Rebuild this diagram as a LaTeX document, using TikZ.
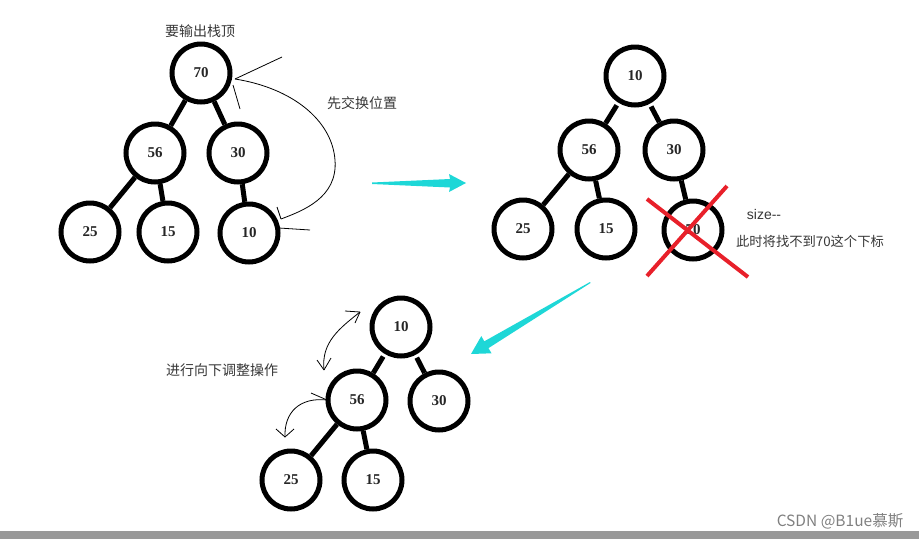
\documentclass[tikz,border=0pt]{standalone}
\usepackage{fontspec}
\usepackage{tikz}
\usepackage{xcolor}
\usetikzlibrary{positioning,calc}
\newfontfamily\cjk{Noto Sans CJK SC}
\newfontfamily\numfont{Liberation Serif}
\definecolor{arrowcyan}{RGB}{30,215,215}
\definecolor{crossred}{RGB}{232,32,42}
\definecolor{labelgray}{RGB}{55,55,55}

\begin{document}
\begin{tikzpicture}[x=1pt, y=-1pt,
        heapnode/.style={circle, draw, line width=5pt, minimum size=58pt, inner sep=0pt,
                         font=\numfont\fontsize{15}{15}\selectfont\bfseries, text=black!85},
        edge/.style={line width=5pt},
        hand/.style={line width=0.8pt, black},
        note/.style={font=\cjk\fontsize{14}{16}\selectfont, text=labelgray},
        bigarrow/.style={fill=arrowcyan}
    ]
        \useasboundingbox (0,0) rectangle (919,539);

        % First heap
        \node[note] (top) at (200,31) {要输出栈顶};
        \node[heapnode] (A70) at (201,73) {70};
        \node[heapnode] (A56) at (155,153) {56};
        \node[heapnode] (A30) at (238,153) {30};
        \node[heapnode] (A25) at (90,232) {25};
        \node[heapnode] (A15) at (168,232) {15};
        \node[heapnode] (A10) at (249,233) {10};
        \draw[edge] (A70) -- (A56);
        \draw[edge] (A70) -- (A30);
        \draw[edge] (A56) -- (A25);
        \draw[edge] (A56) -- (A15);
        \draw[edge] (A30) -- (A10);

        % Swap mark
        \node[note] (swap) at (362,103) {先交换位置};
        \coordinate (s1) at (235,79);
        \coordinate (e1) at (281,219);
        \draw[hand] (s1) .. controls (292,88) and (332,120) .. (335,160)
                         .. controls (338,198) and (302,211) .. (e1);
        \draw[hand] (s1) -- (282,57);
        \draw[hand] (233,85) -- (240,109);
        \draw[hand] (e1) -- (277,207);
        \draw[hand] (279,228) -- (310,230);

        % Arrow to second heap
        \fill[bigarrow] (372,182.5) -- (450,179) -- (449,174) -- (466,183)
                        -- (449,192) -- (450,187.5) -- (372,184) -- cycle;

        % Second heap
        \node[heapnode] (B10) at (635,76) {10};
        \node[heapnode] (B56) at (589,150) {56};
        \node[heapnode] (B30) at (674,150) {30};
        \node[heapnode] (B25) at (523,229) {25};
        \node[heapnode] (B15) at (606,229) {15};
        \node[heapnode] (B70) at (693,230) {70};
        \draw[edge, shorten <=3pt] (B10) -- (B56);
        \draw[edge, shorten <=3pt] (B10) -- (B30);
        \draw[edge] (B56) -- (B25);
        \draw[edge] (B56) -- (B15);
        \draw[edge] (B30) -- (B70);

        % Removed node
        \draw[crossred, line width=4pt] (647,199) -- (748,277);
        \draw[crossred, line width=4pt] (727,186) -- (647,276);
        \node[font=\fontspec{Liberation Sans}\fontsize{14}{16}\selectfont, text=labelgray] (size) at (764,214) {size--};
        \node[note, font=\cjk\fontsize{13.3}{15}\selectfont] (lost) at (810,241) {此时将找不到70这个下标};

        % Arrow to third heap
        \fill[bigarrow] (590,282) -- (484.3,341.3) -- (481.3,336.1) -- (471,354)
                        -- (491.5,353.3) -- (488.5,348.1) -- (590.5,283) -- cycle;

        % Third heap
        \node[note] (down) at (222,370) {进行向下调整操作};
        \node[heapnode] (C10) at (401,327) {10};
        \node[heapnode] (C56) at (357,400) {56};
        \node[heapnode] (C30) at (439,401) {30};
        \node[heapnode] (C25) at (291,480) {25};
        \node[heapnode] (C15) at (373,480) {15};
        \draw[edge, shorten <=3pt] (C10) -- (C56);
        \draw[edge, shorten <=3pt] (C10) -- (C30);
        \draw[edge] (C56) -- (C25);
        \draw[edge] (C56) -- (C15);

        % Adjust marks
        \coordinate (s2) at (360,312);
        \coordinate (e2) at (324,370);
        \draw[hand] (s2) .. controls (340,328) and (321,342) .. (e2);
        \draw[hand] (s2) -- (345,311);
        \draw[hand] (s2) -- (355,323);
        \draw[hand] (e2) -- (317,360);
        \draw[hand] (e2) -- (331,358);
        \coordinate (s3) at (327,400);
        \coordinate (e3) at (285,437);
        \draw[hand] (s3) .. controls (300,397) and (284,412) .. (e3);
        \draw[hand] (s3) -- (311,393);
        \draw[hand] (e3) -- (276,429);
        \draw[hand] (e3) -- (294,429);

        % Footer
        \fill[black!40] (0,531) rectangle (919,539);
        \node[font=\cjk\fontsize{15.5}{17}\selectfont, text=black!50] (mark) at (840,521) {CSDN @B1ue慕斯};
    \end{tikzpicture}
\end{document}
